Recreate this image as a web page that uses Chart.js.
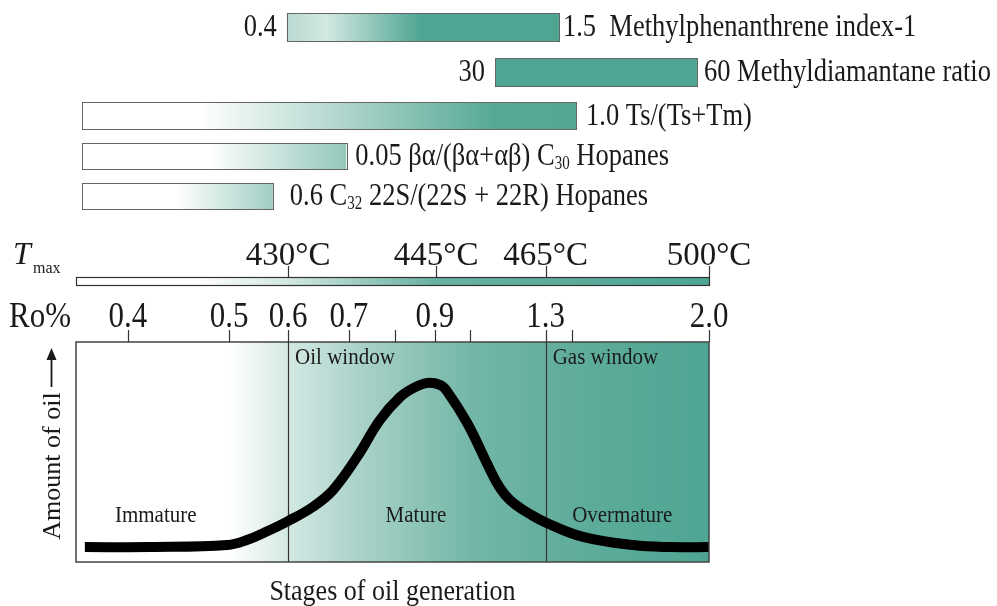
<!DOCTYPE html>
<html>
<head>
<meta charset="utf-8">
<script src="https://cdn.jsdelivr.net/npm/chart.js@4/dist/chart.umd.min.js"></script>
<style>
  html, body { margin: 0; padding: 0; background: #fff; }
  canvas { display: block; }
</style>
</head>
<body>
<canvas id="c" width="997" height="606"></canvas>
<script>
// Horizontal axis: maturity position, 0 = left edge of the generation panel, 100 = right edge.
const roValues    = [0.4, 0.5, 0.6, 0.7, 0.8, 0.9, 1.0, 1.3, 1.4, 2.0];
const roPositions = [8.2, 24.2, 33.5, 43.1, 50.4, 56.7, 62.2, 74.2, 78.4, 100];
const roLabels    = ['0.4', '0.5', '0.6', '0.7', '', '0.9', '', '1.3', '', '2.0'];

const tmaxLabels    = ['430°C', '445°C', '465°C', '500°C'];
const tmaxPositions = [33.5, 56.9, 74.2, 100];

// Oil window starts at Ro 0.6, gas window at Ro 1.3
const windowNames      = ['Oil window', 'Gas window'];
const windowBoundaries = [33.5, 74.2];

const stageNames   = ['Immature', 'Mature', 'Overmature'];
const stageCenters = [12.6, 53.7, 86.3];

// Biomarker maturity ranges (position of the low and high value on the maturity axis)
const ratioNames = [
  'Methylphenanthrene index-1',
  'Methyldiamantane ratio',
  'Ts/(Ts+Tm)',
  'βα/(βα+αβ) C{30} Hopanes',
  'C{32} 22S/(22S + 22R) Hopanes'
];
const ratioLow   = ['0.4', '30', '', '', ''];
const ratioHigh  = ['1.5 ', '60', '1.0', '0.05', '0.6'];
const ratioStart = [33.3, 66.2, 0.9, 0.9, 0.9];
const ratioEnd   = [76.3, 98.1, 79.0, 42.7, 31.1];

// Relative amount of oil generated along the maturity axis
const curveX = [1.4, 11.7, 23.9, 27.0, 30.3, 33.5, 37.4, 40.6, 44.4, 48.0, 51.2, 53.6, 55.5, 57.5, 58.6, 61.8, 64.9, 66.4, 67.8, 69.5, 71.7, 74.4, 80.1, 88.0, 93.8, 100];
const curveY = [6.8, 6.8, 7.7, 10.0, 14.1, 18.6, 25.0, 32.7, 47.7, 64.5, 75.0, 79.5, 81.4, 80.5, 77.7, 63.2, 45.0, 36.4, 30.5, 25.9, 21.8, 17.7, 11.4, 7.7, 6.8, 6.8];

const SERIF = '"Liberation Serif", "Times New Roman", serif';
const TEAL = '#4ea593';
const INK = '#1a1a1a';

// Draw text where "{..}" marks a subscript run; sy stretches glyphs vertically.
function richText(ctx, str, x, y, size, align, sy) {
  sy = sy || 1;
  const parts = [];
  str.split(/(\{[^}]*\})/).forEach(p => {
    if (!p) return;
    if (p[0] === '{') parts.push({ t: p.slice(1, -1), sub: true });
    else parts.push({ t: p, sub: false });
  });
  const subSize = Math.round(size * 0.55);
  let total = 0;
  parts.forEach(p => {
    ctx.font = (p.sub ? subSize : size) + 'px ' + SERIF;
    p.w = ctx.measureText(p.t).width;
    total += p.w;
  });
  let cx = x;
  if (align === 'right') cx = x - total;
  else if (align === 'center') cx = x - total / 2;
  ctx.save();
  ctx.translate(0, y);
  ctx.scale(1, sy);
  ctx.textAlign = 'left';
  ctx.textBaseline = 'alphabetic';
  parts.forEach(p => {
    ctx.font = (p.sub ? subSize : size) + 'px ' + SERIF;
    ctx.fillText(p.t, cx, p.sub ? size * 0.12 : 0);
    cx += p.w;
  });
  ctx.restore();
  return total;
}

function makeGradient(ctx, xs, stops) {
  const x0 = xs.getPixelForValue(0), x1 = xs.getPixelForValue(100);
  const g = ctx.createLinearGradient(x0, 0, x1, 0);
  stops.forEach(([p, c]) => g.addColorStop(Math.max(0, Math.min(1, p / 100)), c));
  return g;
}

// colour ramps for the range bars (stops in maturity-position units)
const rowRamps = [
  [[33.3, '#b9d9d1'], [39.5, '#d2e8e2'], [54.5, TEAL], [100, TEAL]],
  [[0, TEAL], [100, TEAL]],
  [[0, '#ffffff'], [19.5, '#ffffff'], [44, '#a9d2c8'], [66, '#56a997'], [100, TEAL]],
  [[0, '#ffffff'], [21, '#ffffff'], [42.7, '#93c7bb'], [100, TEAL]],
  [[0, '#ffffff'], [15.9, '#ffffff'], [31.1, '#a1cec3'], [100, TEAL]]
];
const rowTop    = [13, 58, 102, 143, 183];
const rowHeight = [28, 28, 27, 26, 26];
const rowGap    = [4, 7, 10, 9, 17];

const panelPlugin = {
  id: 'maturityPanel',
  beforeDatasetsDraw(chart) {
    const { ctx, chartArea: a, scales: { x, y } } = chart;
    ctx.save();
    // generation panel background
    ctx.fillStyle = makeGradient(ctx, x, [[0, '#ffffff'], [24.3, '#ffffff'], [33.5, '#d3e8e3'], [45, '#a9d2c8'], [63, '#72b6a7'], [80, '#5eac9b'], [100, TEAL]]);
    ctx.fillRect(a.left, a.top, a.right - a.left, a.bottom - a.top);

    // window boundaries
    ctx.strokeStyle = '#333';
    ctx.lineWidth = 1.2;
    windowBoundaries.forEach(v => {
      const px = Math.round(x.getPixelForValue(v)) + 0.5;
      ctx.beginPath(); ctx.moveTo(px, a.top); ctx.lineTo(px, a.bottom); ctx.stroke();
    });

    // labels inside the panel
    ctx.fillStyle = INK;
    windowNames.forEach((n, i) => {
      richText(ctx, n, x.getPixelForValue(windowBoundaries[i]) + 7, y.getPixelForValue(93.2) + 7, 21, 'left', 1.1);
    });
    stageNames.forEach((n, i) => {
      richText(ctx, n, x.getPixelForValue(stageCenters[i]), y.getPixelForValue(21.4) + 7, 21, 'center', 1.1);
    });
    ctx.restore();
  },
  afterDraw(chart) {
    const { ctx, chartArea: a, scales: { x } } = chart;
    ctx.save();
    // panel frame
    ctx.strokeStyle = '#444';
    ctx.lineWidth = 1.5;
    ctx.strokeRect(a.left, a.top, a.right - a.left, a.bottom - a.top);

    // Ro% scale
    ctx.lineWidth = 1.2;
    ctx.strokeStyle = '#333';
    ctx.fillStyle = INK;
    roPositions.forEach((v, i) => {
      const px = Math.round(x.getPixelForValue(v)) + 0.5;
      ctx.beginPath(); ctx.moveTo(px, a.top - 12); ctx.lineTo(px, a.top); ctx.stroke();
      if (roLabels[i]) richText(ctx, roLabels[i], x.getPixelForValue(v), a.top - 15, 31, 'center', 1.15);
    });
    richText(ctx, 'Ro%', 9, a.top - 15, 31, 'left', 1.15);

    // Tmax bar
    const tTop = a.top - 65, tH = 8;
    ctx.fillStyle = makeGradient(ctx, x, [[0, '#ffffff'], [19, '#ffffff'], [33.5, '#d3e8e3'], [46, '#97c9bd'], [57, '#68b1a2'], [100, TEAL]]);
    ctx.fillRect(a.left, tTop, a.right - a.left, tH);
    ctx.strokeStyle = '#333';
    ctx.lineWidth = 1.2;
    ctx.strokeRect(a.left + 0.5, tTop + 0.5, a.right - a.left, tH);
    ctx.fillStyle = INK;
    tmaxPositions.forEach((v, i) => {
      const px = Math.round(x.getPixelForValue(v)) + 0.5;
      ctx.beginPath(); ctx.moveTo(px, tTop - 11); ctx.lineTo(px, tTop); ctx.stroke();
      richText(ctx, tmaxLabels[i], x.getPixelForValue(v), tTop - 12, 33, 'center', 1.0);
    });
    ctx.font = 'italic 32px ' + SERIF;
    ctx.textAlign = 'left';
    ctx.fillText('T', 13, 264);
    richText(ctx, 'max', 33, 273, 16, 'left');

    // biomarker range bars
    ratioNames.forEach((name, i) => {
      const x0 = x.getPixelForValue(ratioStart[i]);
      const x1 = x.getPixelForValue(ratioEnd[i]);
      const top = rowTop[i], h = rowHeight[i];
      ctx.fillStyle = makeGradient(ctx, x, rowRamps[i]);
      ctx.fillRect(x0, top, x1 - x0, h);
      ctx.strokeStyle = '#666';
      ctx.lineWidth = 1;
      ctx.strokeRect(Math.round(x0) + 0.5, top + 0.5, Math.round(x1 - x0), h);
      ctx.fillStyle = INK;
      const base = top + h / 2 + 9;
      if (ratioLow[i]) richText(ctx, ratioLow[i], x0 - 10, base, 26.5, 'right', 1.2);
      richText(ctx, ratioHigh[i] + ' ' + name, x1 + rowGap[i], base, 26.5, 'left', 1.2);
    });

    // vertical axis title with upward arrow
    ctx.save();
    ctx.translate(60, 466);
    ctx.rotate(-Math.PI / 2);
    ctx.fillStyle = INK;
    richText(ctx, 'Amount of oil', 0, 0, 26, 'center');
    ctx.restore();
    ctx.strokeStyle = INK;
    ctx.lineWidth = 1.8;
    ctx.beginPath(); ctx.moveTo(51.5, 387); ctx.lineTo(51.5, 355); ctx.stroke();
    ctx.fillStyle = INK;
    ctx.beginPath(); ctx.moveTo(51.5, 348); ctx.lineTo(46.5, 360); ctx.lineTo(56.5, 360); ctx.closePath(); ctx.fill();

    // horizontal axis title
    richText(ctx, 'Stages of oil generation', (a.left + a.right) / 2, 600, 26, 'center', 1.1);
    ctx.restore();
  }
};

new Chart(document.getElementById('c'), {
  type: 'line',
  data: {
    datasets: [{
      label: 'Amount of oil',
      data: curveX.map((v, i) => ({ x: v, y: curveY[i] })),
      borderColor: '#000',
      borderWidth: 10,
      pointRadius: 0,
      fill: false,
      tension: 0.4,
      borderJoinStyle: 'round',
      borderCapStyle: 'butt',
      clip: false
    }]
  },
  options: {
    responsive: false,
    animation: false,
    devicePixelRatio: 1,
    layout: { padding: { left: 76, right: 288, top: 342, bottom: 44 } },
    scales: {
      x: { type: 'linear', min: 0, max: 100, display: false },
      y: { type: 'linear', min: 0, max: 100, display: false }
    },
    plugins: { legend: { display: false }, tooltip: { enabled: false } }
  },
  plugins: [panelPlugin]
});
</script>
</body>
</html>
